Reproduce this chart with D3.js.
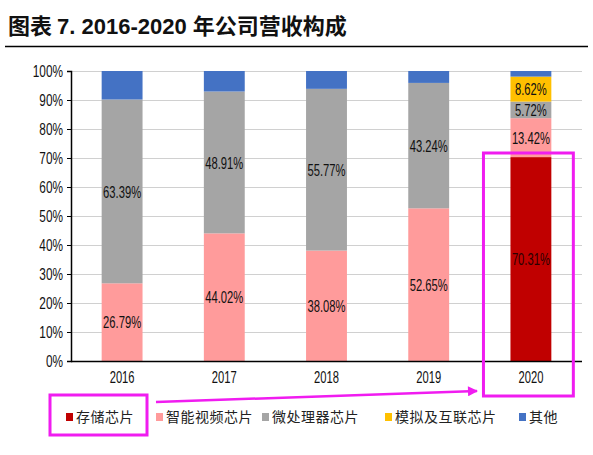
<!DOCTYPE html>
<html>
<head>
<meta charset="utf-8">
<script src="https://cdn.jsdelivr.net/npm/d3@7"></script>
<style>
  body { margin: 0; background: #fff; }
  svg { display: block; }
</style>
</head>
<body>
<div id="chart"></div>
<script>
// data
var years = ["2016", "2017", "2018", "2019", "2020"];
var seriesNames = ["存储芯片", "智能视频芯片", "微处理器芯片", "模拟及互联芯片", "其他"];
var seriesColors = ["#C00000", "#FF9B9B", "#A5A5A5", "#FFC000", "#4472C4"];
var memoryChip = [0, 0, 0, 0, 70.31];
var videoChip = [26.79, 44.02, 38.08, 52.65, 13.42];
var microChip = [63.39, 48.91, 55.77, 43.24, 5.72];
var analogChip = [0, 0, 0, 0, 8.62];
var otherChip = [9.82, 7.07, 6.15, 4.11, 1.93];
var yTicks = [0, 10, 20, 30, 40, 50, 60, 70, 80, 90, 100];
var legendX = [66, 156, 262, 385, 519];

var margins = { left: 71, right: 11, top: 71, bottom: 94 };
var W = 593, H = 455;

var svg = d3.select("#chart").append("svg")
  .attr("width", W).attr("height", H);

var numFont = "'Liberation Sans', Arial, sans-serif";
var squeeze = 0.7; // narrow look of the original numbers

// title
var title = svg.append("text")
  .attr("x", 8).attr("y", 34)
  .attr("font-weight", "bold")
  .attr("font-size", 22)
  .attr("fill", "#111");
title.append("tspan").attr("font-family", "'Noto Sans CJK SC', sans-serif").text("图表 ");
title.append("tspan").attr("font-family", numFont).text("7.  2016-2020 ");
title.append("tspan").attr("font-family", "'Noto Sans CJK SC', sans-serif").text("年公司营收构成");

svg.append("line")
  .attr("x1", 5).attr("x2", 588).attr("y1", 46.5).attr("y2", 46.5)
  .attr("stroke", "#000").attr("stroke-width", 1.5);

// build table for the stack
var table = years.map(function(y, i) {
  return {
    year: y,
    s0: memoryChip[i], s1: videoChip[i], s2: microChip[i],
    s3: analogChip[i], s4: otherChip[i]
  };
});
var keys = ["s0", "s1", "s2", "s3", "s4"];
var stacked = d3.stack().keys(keys)(table);

var x = d3.scaleBand()
  .domain(years)
  .range([margins.left, W - margins.right])
  .paddingInner(0.6)
  .paddingOuter(0.3);

var y = d3.scaleLinear()
  .domain([0, 100])
  .range([H - margins.bottom, margins.top]);

// grid lines
svg.append("g")
  .selectAll("line")
  .data(yTicks.filter(function(d) { return d > 0; }))
  .enter().append("line")
  .attr("x1", margins.left).attr("x2", W - margins.right)
  .attr("y1", function(d) { return Math.round(y(d)) + 0.5; })
  .attr("y2", function(d) { return Math.round(y(d)) + 0.5; })
  .attr("stroke", "#D0D0D0").attr("stroke-width", 1);

// bars
var layer = svg.append("g").selectAll("g")
  .data(stacked)
  .enter().append("g")
  .attr("fill", function(d, i) { return seriesColors[i]; });

layer.selectAll("rect")
  .data(function(d) { return d; })
  .enter().append("rect")
  .attr("x", function(d) { return x(d.data.year); })
  .attr("width", x.bandwidth())
  .attr("y", function(d) { return y(d[1]); })
  .attr("height", function(d) { return y(d[0]) - y(d[1]); });

// data labels (not for "other")
stacked.forEach(function(s, si) {
  if (si === 4) return;
  svg.append("g").selectAll("text")
    .data(s.filter(function(d) { return d[1] - d[0] > 0; }))
    .enter().append("text")
    .attr("transform", function(d) {
      return "translate(" + (x(d.data.year) + x.bandwidth() / 2) + "," +
        y((d[0] + d[1]) / 2) + ") scale(0.66,1)";
    })
    .attr("dy", "0.36em")
    .attr("text-anchor", "middle")
    .attr("font-family", numFont)
    .attr("font-size", 17)
    .attr("fill", si === 0 ? "#2a0000" : "#111")
    .text(function(d) { return (d[1] - d[0]).toFixed(2) + "%"; });
});

// y axis
var yAxis = d3.axisLeft(y)
  .tickValues(yTicks)
  .tickSize(4)
  .tickFormat(function(d) { return d + "%"; });

var gy = svg.append("g")
  .attr("transform", "translate(" + margins.left + ",0)")
  .call(yAxis);
gy.select(".domain").attr("stroke", "#000").attr("stroke-width", 1.5);
gy.selectAll(".tick line").attr("stroke", "#000");
gy.selectAll(".tick text")
  .attr("font-family", numFont)
  .attr("font-size", 16)
  .attr("fill", "#111")
  .attr("x", 0)
  .attr("transform", "translate(-8,0) scale(0.74,1)");

// x axis
var xAxis = d3.axisBottom(x).tickSize(0).tickPadding(12);
var gx = svg.append("g")
  .attr("transform", "translate(0," + (H - margins.bottom) + ")")
  .call(xAxis);
gx.select(".domain").attr("stroke", "#000").attr("stroke-width", 1.5)
  .attr("d", "M" + margins.left + ",0.5H" + (W - margins.right));
gx.selectAll(".tick text")
  .attr("font-family", numFont)
  .attr("font-size", 16)
  .attr("fill", "#111")
  .attr("y", 0)
  .attr("transform", "translate(0,11) scale(" + squeeze + ",1)");

// legend
var legend = svg.append("g").selectAll("g")
  .data(seriesNames)
  .enter().append("g")
  .attr("transform", function(d, i) { return "translate(" + legendX[i] + ",417)"; });

legend.append("rect")
  .attr("x", 0).attr("y", -4)
  .attr("width", 7).attr("height", 8)
  .attr("fill", function(d, i) { return seriesColors[i]; });

legend.append("text")
  .attr("x", 10).attr("dy", "0.36em")
  .attr("font-family", "'Noto Sans CJK SC', sans-serif")
  .attr("font-size", 14)
  .attr("letter-spacing", 0.5)
  .attr("fill", "#222")
  .text(function(d) { return d; });

// magenta annotations
var magenta = "#F01CF0";
var bx = x("2020");
svg.append("rect")
  .attr("x", bx - 27).attr("y", 153)
  .attr("width", x.bandwidth() + 49).attr("height", 243)
  .attr("fill", "none").attr("stroke", magenta).attr("stroke-width", 3);

svg.append("rect")
  .attr("x", 50).attr("y", 395)
  .attr("width", 97).attr("height", 40)
  .attr("fill", "none").attr("stroke", magenta).attr("stroke-width", 3);

svg.append("defs").append("marker")
  .attr("id", "head")
  .attr("viewBox", "0 0 10 10")
  .attr("refX", 9).attr("refY", 5)
  .attr("markerWidth", 5).attr("markerHeight", 4)
  .attr("orient", "auto")
  .append("path")
  .attr("d", "M0,0L10,5L0,10Z")
  .attr("fill", magenta);

svg.append("line")
  .attr("x1", 156).attr("y1", 402)
  .attr("x2", 477).attr("y2", 391)
  .attr("stroke", magenta).attr("stroke-width", 2.5)
  .attr("marker-end", "url(#head)");
</script>
</body>
</html>
